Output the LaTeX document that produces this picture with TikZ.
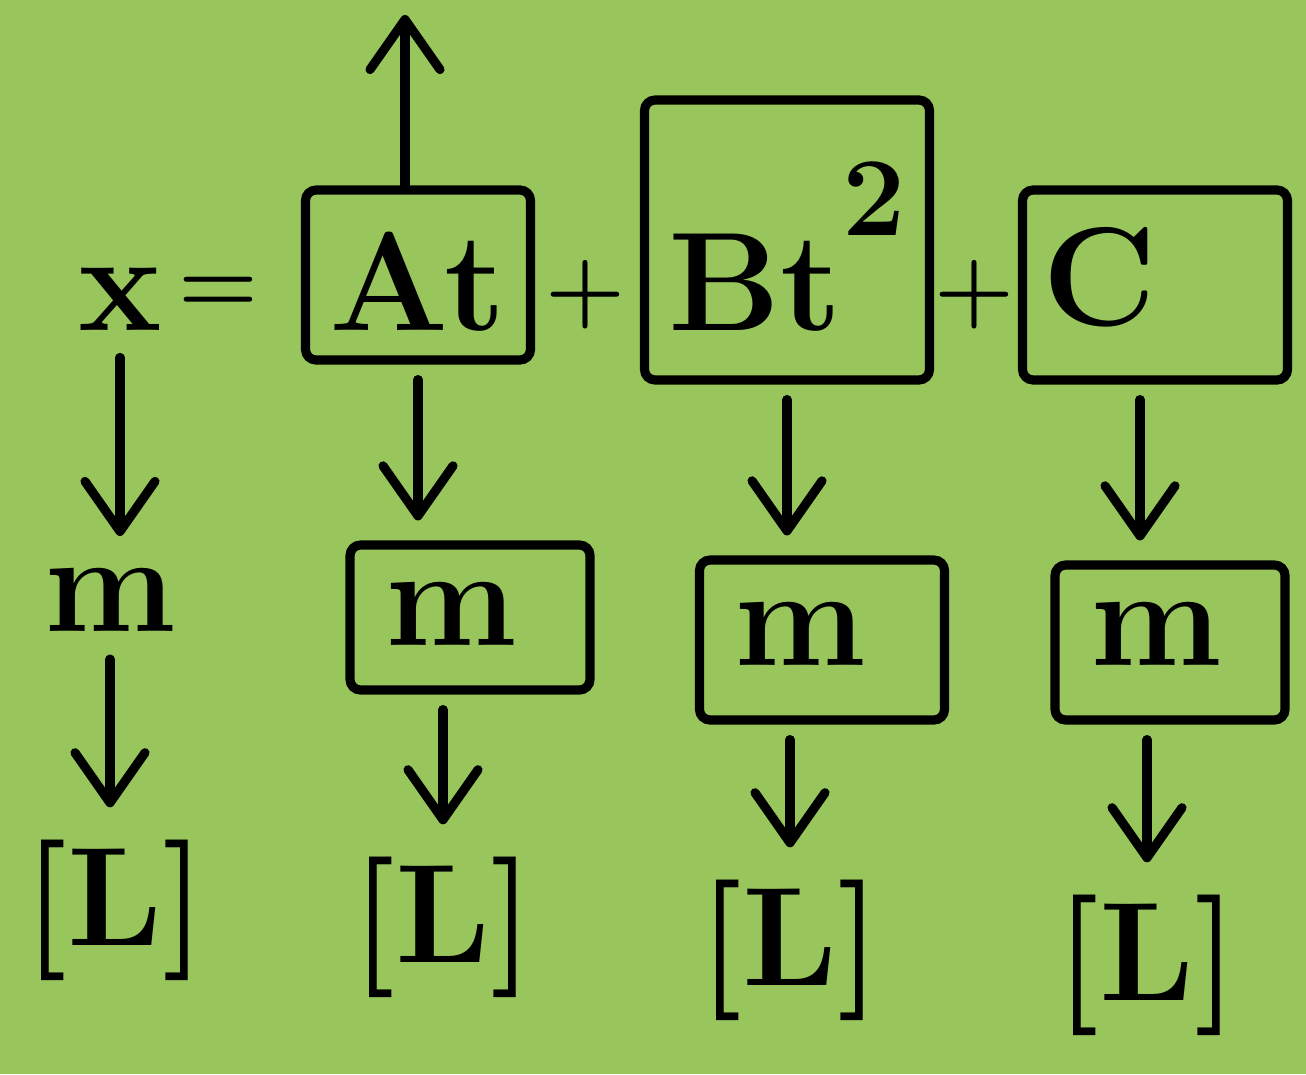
\documentclass[tikz,border=0pt]{standalone}
\usepackage{tikz}
\usetikzlibrary{positioning, arrows.meta}
\definecolor{boardgreen}{RGB}{152,198,92}

\begin{document}
\begin{tikzpicture}[
    >={Straight Barb[length=5mm, width=7mm, round]},
    line cap=round,
    every node/.style={font=\fontsize{40}{48}\selectfont\bfseries},
    op/.style={font=\fontsize{26}{32}\selectfont\bfseries},
    box/.style={draw, line width=2.6pt, inner sep=0pt, rounded corners=3pt, anchor=base},
    mbox/.style={box, align=left, inner xsep=0.35cm},
    arrow/.style={->, line width=2.6pt, shorten <=0.15cm, shorten >=0.2cm}
]
    \fill[boardgreen] (0,0) rectangle (13.06,-10.74);
    \useasboundingbox (0,0) rectangle (13.06,-10.74);

    % top row: x = At + Bt^2 + C
    \node[anchor=base] (xv) at (1.20,-3.30) {x};
    \node[op] (eq) at (2.18,-2.95) {=};
    \node[box, minimum width=2.25cm, text height=1.4cm, text depth=0.3cm] (at) at (4.18,-3.30) {At};
    \node[op] (plusa) at (5.85,-2.95) {+};
    \node[box, minimum width=2.85cm, text height=2.3cm, text depth=0.5cm] (bt) at (7.87,-3.30) {Bt\raisebox{0.95cm}{\fontsize{32}{36}\selectfont 2}};
    \node[op] (plusb) at (9.74,-2.95) {+};
    \node[box, align=left, text width=2.25cm, inner xsep=0.2cm, text height=1.35cm, text depth=0.55cm] (c) at (11.55,-3.25) {C};

    % middle row: m
    \node (m0) at (1.10,-6.00) {m};
    \node[mbox, text width=1.7cm, text height=1.0cm, text depth=0.45cm] (m1) at (4.70,-6.45) {m};
    \node[mbox, text width=1.75cm, text height=1.05cm, text depth=0.55cm] (m2) at (8.22,-6.65) {m};
    \node[mbox, text width=1.6cm, text height=1.0cm, text depth=0.55cm] (m3) at (11.70,-6.65) {m};

    % bottom row: [L]
    \node (l0) at (1.15,-9.10) {[L]};
    \node (l1) at (4.43,-9.27) {[L]};
    \node (l2) at (7.90,-9.50) {[L]};
    \node (l3) at (11.47,-9.65) {[L]};

    \coordinate (up) at (4.05,-0.15);
    \draw[arrow, shorten <=0pt, shorten >=0pt] (at.north -| up) -- (up);

    \draw[arrow] (xv.south) -- (xv.south |- m0.north);
    \draw[arrow] (at.south) -- (at.south |- m1.north);
    \draw[arrow] (bt.south) -- (bt.south |- m2.north);
    \draw[arrow] ([xshift=-0.15cm]c.south) -- ([xshift=-0.15cm]c.south |- m3.north);

    \draw[arrow] (m0.south) -- (m0.south |- l0.north);
    \draw[arrow] (m1.south -| l1.north) -- (l1.north);
    \draw[arrow] (m2.south -| l2.north) -- (l2.north);
    \draw[arrow] (m3.south -| l3.north) -- (l3.north);
\end{tikzpicture}
\end{document}
